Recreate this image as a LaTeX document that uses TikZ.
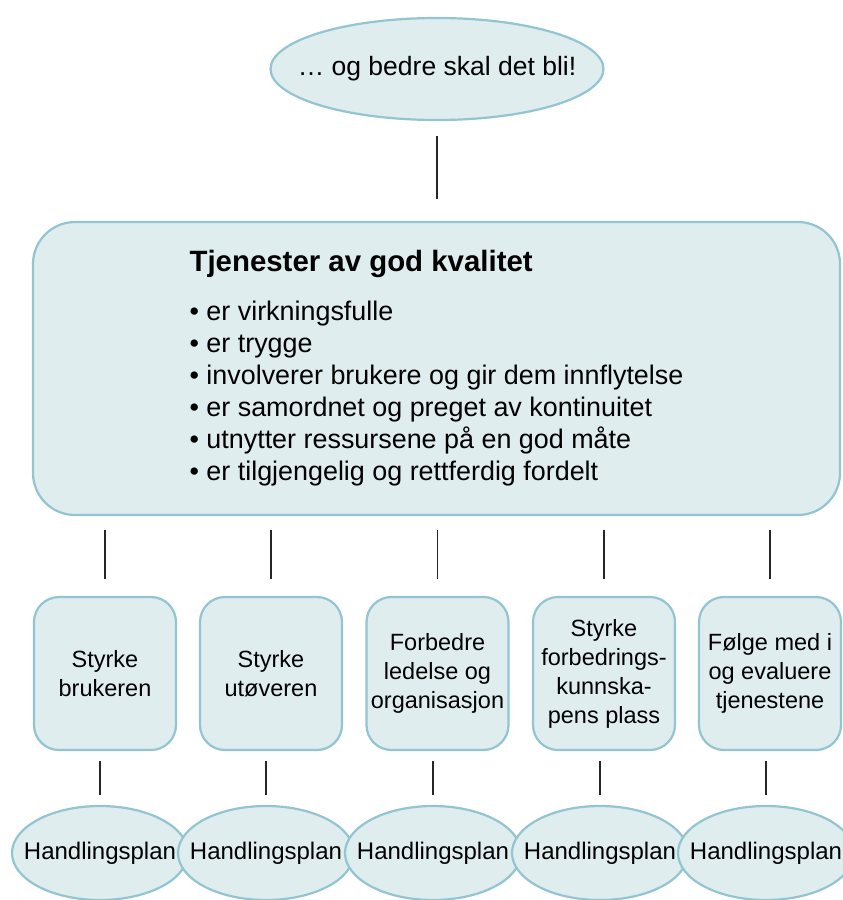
\documentclass[tikz,border=0pt]{standalone}
\usepackage{fontspec}
\setmainfont{Liberation Sans}
\usepackage{xcolor}
\usepackage{tikz}
\usetikzlibrary{shapes.geometric}
\definecolor{boxfill}{RGB}{223,237,239}
\definecolor{boxline}{RGB}{146,196,210}

\begin{document}
\begin{tikzpicture}[x=1pt, y=-1pt,
    bubble/.style={draw=boxline, fill=boxfill, line width=2.2pt, ellipse, inner sep=0pt},
    goal/.style={draw=boxline, fill=boxfill, line width=2.2pt, rectangle, rounded corners=25pt, minimum width=142pt, minimum height=153pt, inner sep=1pt, align=center, font=\fontsize{23.5}{29}\selectfont},
    plan/.style={bubble, minimum width=176pt, minimum height=94pt, font=\fontsize{24}{29}\selectfont},
    link/.style={draw=black!85, line width=1.2pt}]
        \useasboundingbox (0,0) rectangle (843,900);
        \clip (0,0) rectangle (843,900);

        \node[bubble, minimum width=333pt, minimum height=102pt, font=\fontsize{26.5}{32}\selectfont] (aim) at (437,69) {\makebox[0pt]{… og bedre skal det bli!}};

        \node[draw=boxline, fill=boxfill, line width=2.2pt, rectangle, rounded corners=42pt, minimum width=807pt, minimum height=293pt, align=left, font=\fontsize{26.9}{32}\selectfont] (quality) at (436.5,368.5) {{\bfseries\fontsize{29.4}{32}\selectfont Tjenester av god kvalitet}\\[17pt]
            • er virkningsfulle\\
            • er trygge\\
            • involverer brukere og gir dem innflytelse\\
            • er samordnet og preget av kontinuitet\\
            • utnytter ressursene på en god måte\\
            • er tilgjengelig og rettferdig fordelt};

        \node[goal] (b1) at (105,673.5) {Styrke\\brukeren};
        \node[goal] (b2) at (271,673.5) {Styrke\\utøveren};
        \node[goal] (b3) at (437.5,673.5) {Forbedre\\ledelse og\\organisasjon};
        \node[goal] (b4) at (604,673.5) {Styrke\\forbedrings-\\kunnska-\\pens plass};
        \node[goal] (b5) at (770,673.5) {Følge med i\\og evaluere\\tjenestene};

        \node[plan] (p1) at (100,853) {\makebox[0pt]{Handlingsplan}};
        \node[plan] (p2) at (266,853) {\makebox[0pt]{Handlingsplan}};
        \node[plan] (p3) at (433,853) {\makebox[0pt]{Handlingsplan}};
        \node[plan] (p4) at (600,853) {\makebox[0pt]{Handlingsplan}};
        \node[plan] (p5) at (766,853) {\makebox[0pt]{Handlingsplan}};

        \draw[link, shorten <=15pt, shorten >=22pt] (aim) -- (aim |- quality.north);

        \draw[link, shorten <=14pt, shorten >=17pt] (quality.south -| b1.north) -- (b1.north);
        \draw[link, shorten <=14pt, shorten >=17pt] (quality.south -| b2.north) -- (b2.north);
        \draw[link, shorten <=14pt, shorten >=17pt] (quality.south -| b3.north) -- (b3.north);
        \draw[link, shorten <=14pt, shorten >=17pt] (quality.south -| b4.north) -- (b4.north);
        \draw[link, shorten <=14pt, shorten >=17pt] (quality.south -| b5.north) -- (b5.north);

        \draw[link, shorten <=10pt, shorten >=10pt] (b1.south -| p1.north) -- (p1.north);
        \draw[link, shorten <=10pt, shorten >=10pt] (b2.south -| p2.north) -- (p2.north);
        \draw[link, shorten <=10pt, shorten >=10pt] (b3.south -| p3.north) -- (p3.north);
        \draw[link, shorten <=10pt, shorten >=10pt] (b4.south -| p4.north) -- (p4.north);
        \draw[link, shorten <=10pt, shorten >=10pt] (b5.south -| p5.north) -- (p5.north);
    \end{tikzpicture}
\end{document}
